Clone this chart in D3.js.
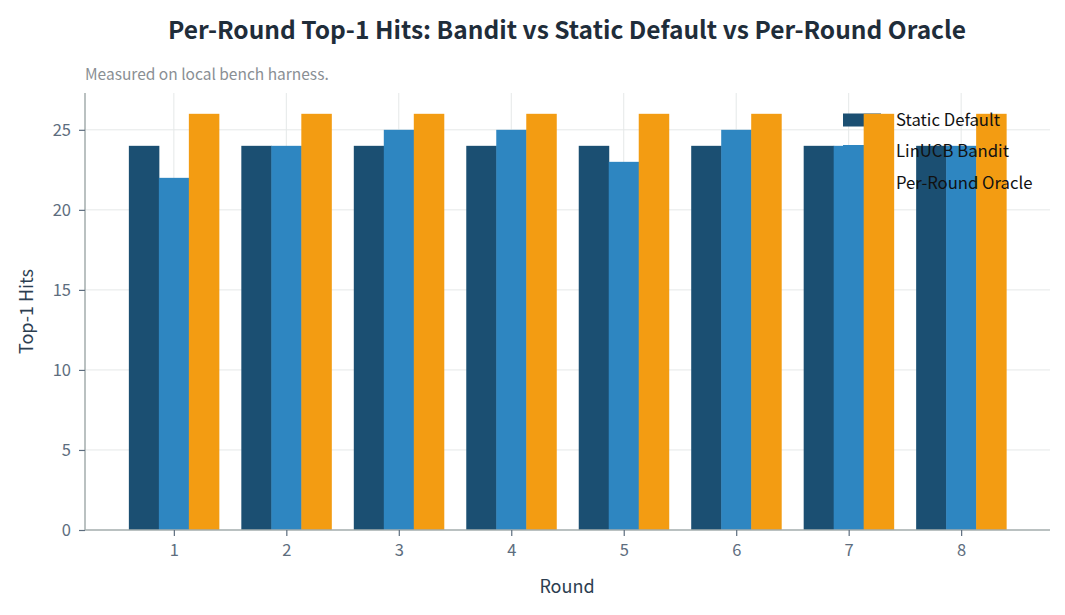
<!DOCTYPE html>
<html>
<head>
<meta charset="utf-8">
<script src="https://cdn.jsdelivr.net/npm/d3@7"></script>
<style>
  body { margin: 0; background: #fff; }
  text { font-family: "Noto Sans CJK KR", "Noto Sans", sans-serif; }
</style>
</head>
<body>
<div id="chart"></div>
<script>
const rounds = [1, 2, 3, 4, 5, 6, 7, 8]
const staticDefault = [24, 24, 24, 24, 24, 24, 24, 24]
const linucbBandit = [22, 24, 25, 25, 23, 25, 24, 24]
const perRoundOracle = [26, 26, 26, 26, 26, 26, 26, 26]
const yTicks = [0, 5, 10, 15, 20, 25]
const seriesNames = ['Static Default', 'LinUCB Bandit', 'Per-Round Oracle']

const width = 1065, height = 615
const margin = {top: 93, right: 15, bottom: 85, left: 85}
const colors = ['#1b4f72', '#2e86c1', '#f39c12']
const series = [staticDefault, linucbBandit, perRoundOracle]
const font = '"Noto Sans CJK KR", "Noto Sans", sans-serif'

const x = d3.scaleLinear().domain([0.21, 8.79]).range([margin.left, width - margin.right])
const y = d3.scaleLinear().domain([0, 27.3]).range([height - margin.bottom, margin.top])
const barW = 0.2667

const svg = d3.select('#chart').append('svg')
  .attr('width', width)
  .attr('height', height)

// grid
svg.append('g').selectAll('line').data(yTicks.slice(1)).join('line')
  .attr('x1', margin.left).attr('x2', width - margin.right)
  .attr('y1', d => y(d)).attr('y2', d => y(d))
  .attr('stroke', '#e5e8e8').attr('stroke-width', 1)
svg.append('g').selectAll('line').data(rounds).join('line')
  .attr('x1', d => x(d)).attr('x2', d => x(d))
  .attr('y1', margin.top).attr('y2', y(0))
  .attr('stroke', '#e5e8e8').attr('stroke-width', 1)

// legend swatches (sit under the bars)
const lx = 843, ly = 120, lgap = 31.5
svg.append('g').selectAll('rect').data(seriesNames).join('rect')
  .attr('x', lx).attr('y', (d, i) => ly + i * lgap - 6.5)
  .attr('width', 38).attr('height', 13)
  .attr('fill', (d, i) => colors[i])

// bars
series.forEach((vals, s) => {
  svg.append('g').selectAll('rect').data(vals).join('rect')
    .attr('x', (d, i) => x(rounds[i] + (s - 1.5) * barW))
    .attr('width', x(barW) - x(0) + 0.5)
    .attr('y', d => y(d))
    .attr('height', d => y(0) - y(d))
    .attr('fill', colors[s])
})

// legend text
svg.append('g').selectAll('text').data(seriesNames).join('text')
  .attr('x', lx + 53).attr('y', (d, i) => ly + i * lgap)
  .attr('dy', '0.35em')
  .attr('font-size', 16.7).attr('fill', '#111')
  .text(d => d)

// axes
const xAxis = d3.axisBottom(x).tickValues(rounds).tickSize(6).tickPadding(8).tickFormat(d3.format('d'))
const yAxis = d3.axisLeft(y).tickValues(yTicks).tickSize(6).tickPadding(8)
const gx = svg.append('g')
  .attr('transform', `translate(0, ${y(0)})`)
  .call(xAxis)
const gy = svg.append('g')
  .attr('transform', `translate(${margin.left}, 0)`)
  .call(yAxis)
;[gx, gy].forEach(g => {
  g.select('.domain').attr('stroke', '#a3acad').attr('stroke-width', 1.5)
  g.selectAll('.tick line').attr('stroke', '#5d6d7e').attr('stroke-width', 1.2)
  g.selectAll('.tick text').attr('fill', '#5d6d7e').attr('font-size', 16.5)
    .style('font-family', font)
})
gx.select('.domain').attr('d', `M${margin.left},0H${width - margin.right}`)
gy.select('.domain').attr('d', `M0,${margin.top}V${y(0)}`)

// titles
svg.append('text')
  .attr('x', 567).attr('y', 39)
  .attr('text-anchor', 'middle')
  .attr('font-size', 24.5).attr('font-weight', 'bold').attr('fill', '#1f2d3a')
  .text('Per-Round Top-1 Hits: Bandit vs Static Default vs Per-Round Oracle')
svg.append('text')
  .attr('x', 85).attr('y', 80)
  .attr('font-size', 15.5).attr('fill', '#8a8f94')
  .text('Measured on local bench harness.')
svg.append('text')
  .attr('x', 567).attr('y', 593)
  .attr('text-anchor', 'middle')
  .attr('font-size', 18).attr('fill', '#2c3e50')
  .text('Round')
svg.append('text')
  .attr('transform', `translate(33, ${(margin.top + y(0)) / 2}) rotate(-90)`)
  .attr('text-anchor', 'middle')
  .attr('font-size', 18).attr('fill', '#2c3e50')
  .text('Top-1 Hits')
</script>
</body>
</html>
